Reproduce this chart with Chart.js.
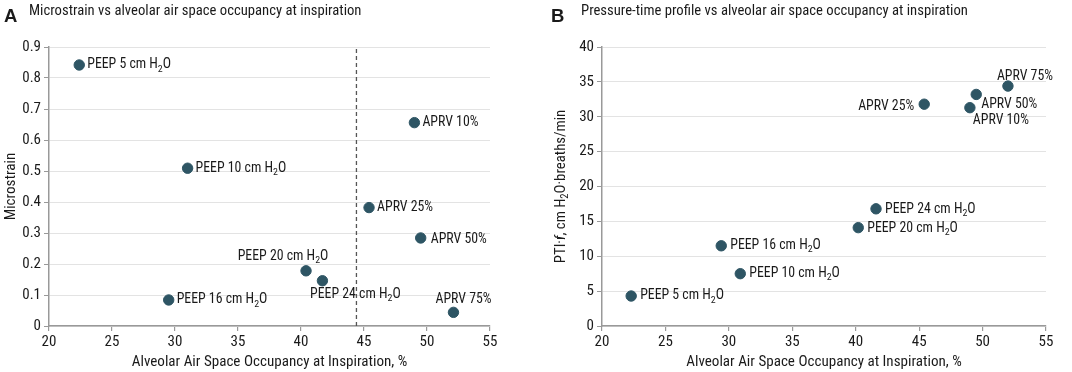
<!DOCTYPE html>
<html>
<head>
<meta charset="utf-8">
<script src="https://cdn.jsdelivr.net/npm/chart.js@4.4.1/dist/chart.umd.min.js"></script>
<style>
  body { margin: 0; background: #fff; }
  #wrap { position: relative; width: 1072px; height: 372px; overflow: hidden; }
  .panel { position: absolute; top: 0; width: 536px; height: 372px; }
  .head { position: absolute; top: 0; font-family: "Roboto Condensed", "DejaVu Sans Condensed", sans-serif; color: #1a1a1a; white-space: nowrap; line-height: 1; }
  .letter { font-family: "Liberation Sans", Arial, sans-serif; font-weight: bold; font-size: 18.5px; top: 7px; }
  .ttl { font-size: 14.7px; top: 3px; }
  canvas { position: absolute; left: 0; top: 0; }
</style>
</head>
<body>
<div id="wrap">
  <div class="panel" style="left:0">
    <canvas id="chartA" width="536" height="372"></canvas>
    <div class="head letter" style="left:4px">A</div>
    <div class="head ttl" style="left:29px">Microstrain vs alveolar air space occupancy at inspiration</div>
  </div>
  <div class="panel" style="left:536px">
    <canvas id="chartB" width="536" height="372"></canvas>
    <div class="head letter" style="left:15px">B</div>
    <div class="head ttl" style="left:45px">Pressure-time profile vs alveolar air space occupancy at inspiration</div>
  </div>
</div>
<script>
// condition names shared by both panels
const conditions = ['PEEP 5 cm H₂O', 'PEEP 10 cm H₂O', 'PEEP 16 cm H₂O', 'PEEP 20 cm H₂O', 'PEEP 24 cm H₂O',
                    'APRV 10%', 'APRV 25%', 'APRV 50%', 'APRV 75%'];

// panel A: occupancy (%) vs microstrain
const occupancyA = [22.4, 31.0, 29.5, 40.4, 41.7, 49.0, 45.4, 49.5, 52.1];
const microstrain = [0.842, 0.509, 0.084, 0.178, 0.146, 0.656, 0.382, 0.284, 0.044];
const cutoffX = 44.4;

// panel B: occupancy (%) vs PTI·f
const occupancyB = [22.3, 30.9, 29.4, 40.2, 41.6, 49.0, 45.4, 49.5, 52.0];
const ptiF = [4.3, 7.5, 11.5, 14.1, 16.8, 31.3, 31.8, 33.2, 34.4];

const xLabel = 'Alveolar Air Space Occupancy at Inspiration, %';

// label placement next to each point: [align, dx, dy]
const placeA = [['left', 8, 0], ['left', 8, 0], ['left', 8, 0], ['center', -23, -14], ['center', 33, 14],
                ['left', 8, 0], ['left', 8, 0], ['left', 10, 2], ['center', 10, -13]];
const placeB = [['left', 9, 0], ['left', 9, 0], ['left', 9, 0], ['left', 9, 1], ['left', 9, 1],
                ['center', 31, 13], ['right', -10, 2], ['left', 5, 10], ['center', 17, -10]];

const FONT = '"Roboto Condensed", "DejaVu Sans Condensed", sans-serif';
const POINT = '#2e5564';
const TEXT = '#1a1a1a';

// draws text, turning ₂ into a small lowered 2; parts = [[text, italic], ...]
function richWidth(ctx, parts, size) {
    let w = 0;
    parts.forEach(([t, it]) => {
        t.split(/(₂)/).forEach(s => {
            if (!s) return;
            ctx.font = (it ? 'italic ' : '') + (s === '₂' ? size * 0.72 : size) + 'px ' + FONT;
            w += ctx.measureText(s === '₂' ? '2' : s).width;
        });
    });
    return w;
}
function richDraw(ctx, parts, size, x, y) {
    parts.forEach(([t, it]) => {
        t.split(/(₂)/).forEach(s => {
            if (!s) return;
            const sub = s === '₂';
            ctx.font = (it ? 'italic ' : '') + (sub ? size * 0.72 : size) + 'px ' + FONT;
            const str = sub ? '2' : s;
            ctx.fillText(str, x, sub ? y + size * 0.3 : y);
            x += ctx.measureText(str).width;
        });
    });
}

const pointLabels = {
    id: 'pointLabels',
    afterDatasetsDraw(chart, args, opts) {
        const ctx = chart.ctx;
        const meta = chart.getDatasetMeta(0);
        ctx.save();
        ctx.fillStyle = TEXT;
        ctx.textAlign = 'left';
        ctx.textBaseline = 'middle';
        meta.data.forEach((el, i) => {
            const parts = [[opts.labels[i], false]];
            const w = richWidth(ctx, parts, 13.8);
            const [align, dx, dy] = opts.place[i];
            let x = el.x + dx;
            if (align === 'center') x -= w / 2;
            if (align === 'right') x -= w;
            richDraw(ctx, parts, 13.8, x, el.y + dy);
        });
        ctx.restore();
    }
};

const richYTitle = {
    id: 'richYTitle',
    afterDraw(chart, args, opts) {
        if (!opts.parts) return;
        const ctx = chart.ctx;
        const area = chart.chartArea;
        ctx.save();
        ctx.fillStyle = TEXT;
        ctx.textBaseline = 'middle';
        ctx.textAlign = 'left';
        const w = richWidth(ctx, opts.parts, 14.8);
        ctx.translate(opts.x, (area.top + area.bottom) / 2);
        ctx.rotate(-Math.PI / 2);
        richDraw(ctx, opts.parts, 14.8, -w / 2, 0);
        ctx.restore();
    }
};

function makeOptions(cfg) {
    return {
        responsive: false,
        animation: false,
        layout: { padding: { left: cfg.padLeft, right: cfg.padRight, top: 47, bottom: 1 } },
        plugins: {
            legend: { display: false },
            tooltip: { enabled: false },
            pointLabels: { labels: conditions, place: cfg.place },
            richYTitle: { parts: cfg.richTitle, x: cfg.richX }
        },
        scales: {
            x: {
                type: 'linear',
                min: 20, max: 55,
                afterFit: s => { s.height = 372 - 326 - 1; },
                ticks: { stepSize: 5, color: TEXT, font: { family: FONT, size: 15 }, padding: 2, maxRotation: 0 },
                grid: { drawOnChartArea: false, drawTicks: true, tickLength: 5, tickColor: '#999', lineWidth: 1.2 },
                border: { color: '#999', width: 1.5 },
                title: { display: true, text: xLabel, color: TEXT, font: { family: FONT, size: 15.1 }, padding: { top: 0, bottom: 0 } }
            },
            y: {
                min: 0, max: cfg.yMax,
                afterFit: s => { s.width = cfg.yWidth; },
                ticks: { stepSize: cfg.yStep, color: TEXT, font: { family: FONT, size: 15 }, padding: 3,
                         callback: cfg.yFormat },
                grid: { color: '#e3e3e3', lineWidth: 1, drawTicks: true, tickLength: 5, tickColor: '#999' },
                border: { color: '#999', width: 1.5 },
                title: { display: !!cfg.yTitle, text: cfg.yTitle || '', color: TEXT, font: { family: FONT, size: 15.1 }, padding: { top: 2, bottom: 0 } }
            }
        }
    };
}

new Chart(document.getElementById('chartA'), {
    type: 'scatter',
    data: {
        datasets: [{
            data: occupancyA.map((x, i) => ({ x: x, y: microstrain[i] })),
            backgroundColor: POINT, borderColor: POINT, pointRadius: 5.2, pointHoverRadius: 5.2
        }, {
            type: 'line',
            data: [{ x: cutoffX, y: 0 }, { x: cutoffX, y: 0.9 }],
            borderColor: '#555', borderWidth: 1.3, borderDash: [4, 3], pointRadius: 0, fill: false
        }]
    },
    options: makeOptions({
        padLeft: 0, padRight: 46, yWidth: 49, yMax: 0.9, yStep: 0.1,
        yFormat: v => v === 0 ? '0' : v.toFixed(1),
        yTitle: 'Microstrain', place: placeA
    }),
    plugins: [pointLabels, richYTitle]
});

new Chart(document.getElementById('chartB'), {
    type: 'scatter',
    data: {
        datasets: [{
            data: occupancyB.map((x, i) => ({ x: x, y: ptiF[i] })),
            backgroundColor: POINT, borderColor: POINT, pointRadius: 5.2, pointHoverRadius: 5.2
        }]
    },
    options: makeOptions({
        padLeft: 0, padRight: 26, yWidth: 66, yMax: 40, yStep: 5,
        yFormat: v => String(v),
        place: placeB,
        richTitle: [['PTI·', false], ['f', true], [', cm H₂O·breaths/min', false]], richX: 25
    }),
    plugins: [pointLabels, richYTitle]
});
</script>
</body>
</html>
